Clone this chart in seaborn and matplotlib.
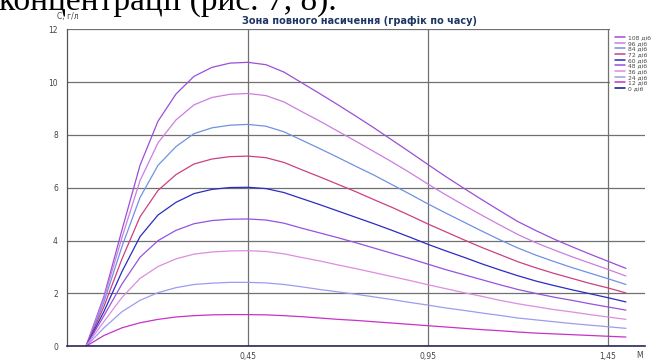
import matplotlib
matplotlib.use("Agg")
import matplotlib.pyplot as plt
import matplotlib.patches as mpatches
import numpy as np
import pandas as pd
import seaborn as sns

# ---------------- data ----------------
x = [0.00, 0.05, 0.10, 0.15, 0.20, 0.25, 0.30, 0.35, 0.40, 0.45,
     0.50, 0.55, 0.60, 0.65, 0.70, 0.75, 0.80, 0.85, 0.90, 0.95,
     1.00, 1.05, 1.10, 1.15, 1.20, 1.25, 1.30, 1.35, 1.40, 1.45, 1.50]

c108 = [0, 1.90, 4.41, 6.85, 8.52, 9.55, 10.22, 10.56, 10.72, 10.75,
        10.66, 10.38, 9.97, 9.56, 9.14, 8.71, 8.27, 7.81, 7.35, 6.88,
        6.42, 5.98, 5.55, 5.13, 4.72, 4.38, 4.06, 3.77, 3.49, 3.22, 2.95]
c96 = [0, 1.82, 4.12, 6.27, 7.70, 8.57, 9.14, 9.42, 9.54, 9.57,
       9.49, 9.25, 8.88, 8.52, 8.14, 7.76, 7.37, 6.98, 6.57, 6.14,
       5.73, 5.34, 4.96, 4.59, 4.23, 3.92, 3.65, 3.39, 3.15, 2.91, 2.66]
c84 = [0, 1.68, 3.78, 5.63, 6.85, 7.56, 8.05, 8.27, 8.37, 8.40,
       8.33, 8.12, 7.80, 7.48, 7.15, 6.81, 6.48, 6.12, 5.76, 5.39,
       5.04, 4.70, 4.36, 4.03, 3.72, 3.45, 3.21, 2.98, 2.77, 2.56, 2.34]
c72 = [0, 1.51, 3.31, 4.90, 5.90, 6.50, 6.90, 7.09, 7.18, 7.20,
       7.14, 6.96, 6.68, 6.41, 6.13, 5.85, 5.55, 5.26, 4.95, 4.63,
       4.33, 4.03, 3.74, 3.47, 3.20, 2.97, 2.76, 2.57, 2.38, 2.21, 2.02]
c60 = [0, 1.32, 2.83, 4.15, 4.97, 5.45, 5.78, 5.94, 6.01, 6.02,
       5.97, 5.82, 5.59, 5.36, 5.12, 4.88, 4.64, 4.39, 4.13, 3.86,
       3.61, 3.37, 3.12, 2.89, 2.67, 2.47, 2.30, 2.14, 1.99, 1.84, 1.68]
c48 = [0, 1.16, 2.36, 3.37, 4.00, 4.39, 4.64, 4.76, 4.81, 4.82,
       4.78, 4.66, 4.47, 4.29, 4.11, 3.92, 3.72, 3.52, 3.32, 3.11,
       2.90, 2.71, 2.52, 2.33, 2.15, 2.00, 1.86, 1.74, 1.61, 1.49, 1.37]
c36 = [0, 0.94, 1.85, 2.57, 3.02, 3.31, 3.49, 3.57, 3.61, 3.62,
       3.59, 3.50, 3.36, 3.23, 3.08, 2.94, 2.79, 2.64, 2.49, 2.33,
       2.18, 2.03, 1.89, 1.74, 1.61, 1.50, 1.39, 1.30, 1.20, 1.11, 1.02]
c24 = [0, 0.70, 1.31, 1.74, 2.03, 2.22, 2.34, 2.39, 2.42, 2.42,
       2.40, 2.34, 2.25, 2.15, 2.06, 1.97, 1.87, 1.77, 1.66, 1.56,
       1.45, 1.36, 1.26, 1.17, 1.07, 1.00, 0.93, 0.86, 0.80, 0.74, 0.68]
c12 = [0, 0.41, 0.70, 0.89, 1.02, 1.11, 1.16, 1.19, 1.20, 1.20,
       1.19, 1.16, 1.12, 1.07, 1.02, 0.98, 0.93, 0.88, 0.83, 0.78,
       0.73, 0.68, 0.63, 0.59, 0.54, 0.50, 0.47, 0.44, 0.41, 0.38, 0.35]
c0 = [0.0] * 31

labels = ["108 діб", "96 діб", "84 діб", "72 діб", "60 діб",
          "48 діб", "36 діб", "24 діб", "12 діб", "0 діб"]
series = [c108, c96, c84, c72, c60, c48, c36, c24, c12, c0]
colors = ["#9a4fd8", "#cc7ee0", "#6f92e2", "#cc4080", "#2b2bc4",
          "#9652e0", "#de8ce0", "#9c9cee", "#c832c8", "#10108e"]

y_ticks = [0, 2, 4, 6, 8, 10, 12]
x_ticks = [0.45, 0.95, 1.45]
x_tick_labels = ["0,45", "0,95", "1,45"]

title = "Зона повного насичення (графік по часу)"
y_label = "С, г/л"
x_label = "М"
doc_text = "концентрації (рис. 7, 8)."

df = pd.concat(
    [pd.DataFrame({"x": x, "c": s, "серія": lab}) for s, lab in zip(series, labels)],
    ignore_index=True,
)
palette = dict(zip(labels, colors))

# ---------------- figure ----------------
sns.set_style("white")
plt.rcParams["font.family"] = ["DejaVu Sans"]

W, H = 658, 360
fig = plt.figure(figsize=(W / 100, H / 100), dpi=100)
L, R, T, B = 67, 645, 29.3, 346.3
ax = fig.add_axes([L / W, 1 - B / H, (R - L) / W, (B - T) / H])

sns.lineplot(data=df, x="x", y="c", hue="серія", hue_order=labels,
             palette=palette, ax=ax, linewidth=0.9, estimator=None,
             sort=False, legend=True)

ax.set_xlim(-0.0528, 1.553)
ax.set_ylim(0, 12)
ax.set_yticks(y_ticks)
ax.set_yticklabels([str(v) for v in y_ticks])
ax.set_xticks(x_ticks)
ax.set_xticklabels(x_tick_labels)
ax.set_xlabel("")
ax.set_ylabel("")

ax.set_axisbelow(True)
ax.grid(True, color="#707070", linewidth=0.9)

for s in ["top", "right"]:
    ax.spines[s].set_visible(False)
ax.spines["left"].set_color("#555555")
ax.spines["left"].set_linewidth(0.9)
ax.spines["bottom"].set_color("#2a2a5a")
ax.spines["bottom"].set_linewidth(1.2)

ax.tick_params(axis="y", direction="out", length=5, width=0.8,
               color="#555555", labelsize=5.5, labelcolor="#444444", pad=1.5)
ax.tick_params(axis="x", direction="out", length=3, width=0.8,
               color="#555555", labelsize=5.5, labelcolor="#444444", pad=1)

# white box behind legend (covers grid lines there)
ax.add_patch(mpatches.Rectangle((610 / W, 1 - 112 / H), 48 / W, 84 / H,
                                transform=fig.transFigure, facecolor="white",
                                edgecolor="none", zorder=1.5, clip_on=False))

leg = ax.legend(loc="upper left", bbox_to_anchor=(615 / W, 1 - 35 / H),
                bbox_transform=fig.transFigure, frameon=False, fontsize=4.3,
                handlelength=1.7, handletextpad=0.5, labelspacing=0.08,
                borderpad=0, borderaxespad=0)
for line in leg.get_lines():
    line.set_linewidth(1.1)
for t in leg.get_texts():
    t.set_color("#444444")
leg.set_zorder(5)

fig.text(360 / W, 1 - 21 / H, title, ha="center", va="center",
         fontsize=7.0, fontweight="bold", color="#1d3665")
fig.text(57 / W, 1 - 17 / H, y_label, ha="left", va="center",
         fontsize=5.5, color="#444444")
fig.text(640 / W, 1 - 355 / H, x_label, ha="center", va="center",
         fontsize=5.5, color="#444444")
fig.text(-0.002, 1 - 10 / H, doc_text, ha="left", va="baseline",
         fontsize=24, family=["Liberation Serif", "DejaVu Serif"], color="black")

fig.savefig("out.png", dpi=100)
